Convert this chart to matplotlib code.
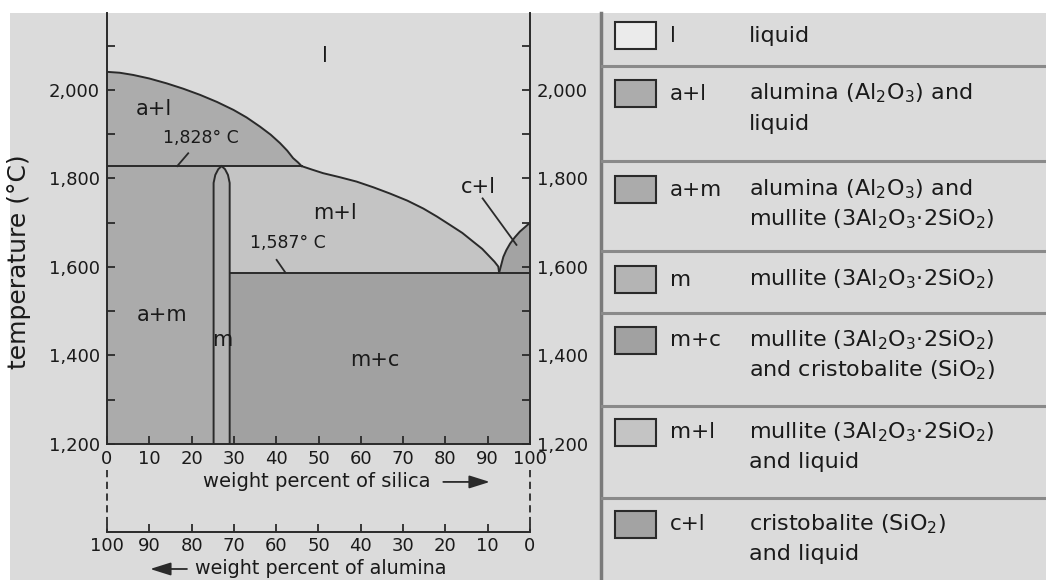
import numpy as np
import matplotlib.pyplot as plt
from matplotlib.patches import Polygon, Rectangle

W, H = 1046, 580

# phase boundaries, x = wt% SiO2, t = degrees C
al_liq_x = [0, 3.0, 6.2, 10.0, 14.1, 18.0, 22.0, 26.0, 29.9, 33.0, 36.2,
            38.7, 40.9, 42.6, 44.0, 45.2, 46.0]
al_liq_t = [2041, 2039, 2034, 2026, 2015, 2003, 1989, 1973, 1955, 1938, 1917,
            1899, 1880, 1863, 1846, 1836, 1828]

mul_liq_x = [46.0, 48.5, 51.1, 55.0, 59.0, 63.0, 66.9, 71.0, 74.8, 78.0,
             81.1, 84.0, 86.6, 88.7, 90.5, 91.6, 92.5, 92.7]
mul_liq_t = [1828, 1820, 1812, 1803, 1793, 1780, 1766, 1750, 1732, 1714,
             1695, 1677, 1657, 1641, 1623, 1612, 1601, 1587]

cri_liq_x = [92.7, 93.7, 94.4, 95.3, 96.4, 97.6, 98.8, 100]
cri_liq_t = [1587, 1623, 1638, 1653, 1667, 1680, 1690, 1700]

# mullite field (narrow band with rounded top)
mul_x = [25.2, 25.2, 25.6, 26.3, 27.1, 27.9, 28.6, 29.0, 29.0]
mul_t = [1200, 1790, 1808, 1821, 1828, 1821, 1808, 1790, 1200]

t_upper_eut = 1828
t_lower_eut = 1587
t_min, t_max = 1200, 2174

major_t = [1200, 1400, 1600, 1800, 2000]
minor_t = [1300, 1500, 1700, 1900, 2100]
silica_ticks = [0, 10, 20, 30, 40, 50, 60, 70, 80, 90, 100]
alumina_ticks = [100, 90, 80, 70, 60, 50, 40, 30, 20, 10, 0]

region_codes = ["l", "a+l", "a+m", "m", "m+c", "m+l", "c+l"]
region_colors = {"l": "#dbdbdb", "a+l": "#acacac", "a+m": "#ababab",
                 "m": "#b4b4b4", "m+c": "#a1a1a1", "m+l": "#c4c4c4",
                 "c+l": "#a3a3a3"}
region_text = {
    "l": ["liquid"],
    "a+l": ["alumina (Al$_2$O$_3$) and", "liquid"],
    "a+m": ["alumina (Al$_2$O$_3$) and", "mullite (3Al$_2$O$_3$\u00b72SiO$_2$)"],
    "m": ["mullite (3Al$_2$O$_3$\u00b72SiO$_2$)"],
    "m+c": ["mullite (3Al$_2$O$_3$\u00b72SiO$_2$)", "and cristobalite (SiO$_2$)"],
    "m+l": ["mullite (3Al$_2$O$_3$\u00b72SiO$_2$)", "and liquid"],
    "c+l": ["cristobalite (SiO$_2$)", "and liquid"],
}

# label positions inside the diagram
field_labels = [("l", 51.5, 2077), ("a+l", 11, 1957), ("m+l", 53.9, 1721),
                ("c+l", 87.7, 1781), ("a+m", 13.1, 1492), ("m", 27.2, 1436),
                ("m+c", 63.4, 1390)]

ink = "#2a2a2a"
txt = "#1a1a1a"
plt.rcParams['font.family'] = ['DejaVu Sans']
plt.rcParams['mathtext.fontset'] = 'dejavusans'

fig = plt.figure(figsize=(W / 100, H / 100), dpi=100)
fig.patch.set_facecolor("#dbdbdb")

# background panel, pixel coordinates
bg = fig.add_axes([0, 0, 1, 1])
bg.set_xlim(0, W)
bg.set_ylim(H, 0)
bg.axis("off")
bg.add_patch(Rectangle((0, 0), W, 13, color="white", lw=0))
bg.add_patch(Rectangle((0, 0), 10, H, color="white", lw=0))
bg.plot([601, 601], [13, H], color="#7a7a7a", lw=2.5)
for y in [66, 161, 251, 313, 406, 498]:
    bg.plot([602, W], [y, y], color="#8a8a8a", lw=2.2)

sw_top = [22, 80, 176, 266, 327, 419, 511]
for code, top in zip(region_codes, sw_top):
    fc = "#ebebeb" if code == "l" else region_colors[code]
    bg.add_patch(Rectangle((615, top), 41, 27, facecolor=fc,
                           edgecolor=ink, lw=1.5))
    yc = top + 13.5
    bg.text(670, yc, code, fontsize=15.5, va="center", ha="left", color=txt)
    for i, line in enumerate(region_text[code]):
        bg.text(749, yc + 30 * i, line, fontsize=16, va="center",
                ha="left", color=txt)

ax = fig.add_axes([107 / W, (H - 444) / H, 423 / W, 431 / H])
ax.set_facecolor(region_colors["l"])
ax.set_xlim(0, 100)
ax.set_ylim(t_min, t_max)

# fields
ax.add_patch(Polygon(list(zip(al_liq_x, al_liq_t)) + [(0, t_upper_eut)],
                     closed=True, facecolor=region_colors["a+l"], lw=0))
ax.add_patch(Rectangle((0, t_min), 27.1, t_upper_eut - t_min,
                       facecolor=region_colors["a+m"], lw=0))
ml = [(27.1, t_upper_eut)] + list(zip(mul_liq_x, mul_liq_t)) + \
     [(29.0, t_lower_eut), (29.0, 1790)]
ax.add_patch(Polygon(ml, closed=True, facecolor=region_colors["m+l"], lw=0))
ax.add_patch(Rectangle((29.0, t_min), 71, t_lower_eut - t_min,
                       facecolor=region_colors["m+c"], lw=0))
ax.add_patch(Polygon(list(zip(cri_liq_x, cri_liq_t)) + [(100, t_lower_eut)],
                     closed=True, facecolor=region_colors["c+l"], lw=0))
ax.add_patch(Polygon(list(zip(mul_x, mul_t)), closed=False,
                     facecolor=region_colors["m"], edgecolor=ink, lw=1.4))

# boundaries
ax.plot(al_liq_x, al_liq_t, color=ink, lw=1.4)
ax.plot(mul_liq_x, mul_liq_t, color=ink, lw=1.4)
ax.plot(cri_liq_x, cri_liq_t, color=ink, lw=1.4)
ax.plot([0, 46.0], [t_upper_eut, t_upper_eut], color=ink, lw=1.4)
ax.plot([29.0, 100], [t_lower_eut, t_lower_eut], color=ink, lw=1.4)

for code, x, t in field_labels:
    ax.text(x, t, code, fontsize=15, ha="center", va="center", color=txt)

ax.text(22.3, 1891, "{:,}° C".format(t_upper_eut), fontsize=12.5,
        ha="center", va="center", color=txt)
ax.plot([19.2, 16.6], [1857, t_upper_eut], color=ink, lw=1.3)
ax.text(42.7, 1654, "{:,}° C".format(t_lower_eut), fontsize=12.5,
        ha="center", va="center", color=txt)
ax.plot([40.1, 42.2], [1616, t_lower_eut], color=ink, lw=1.3)
ax.plot([88.8, 96.8], [1755, 1650], color=ink, lw=1.3)

# axes styling
for s in ["left", "right", "bottom"]:
    ax.spines[s].set_color(ink)
    ax.spines[s].set_linewidth(1.4)
ax.spines["top"].set_visible(False)

ax.set_yticks(major_t)
ax.set_yticklabels(["{:,}".format(t) for t in major_t])
ax.set_yticks(minor_t, minor=True)
ax.set_xticks(silica_ticks)
ax.tick_params(which="both", direction="in", length=6, width=1.3,
               color=ink, labelsize=13, labelcolor=txt,
               left=True, right=True, labelright=True, bottom=True, top=False)
ax.tick_params(axis="x", pad=4)
ax.tick_params(axis="y", pad=5)

# alumina scale under the diagram
sec = ax.secondary_xaxis(-0.204, functions=(lambda s: 100 - s, lambda a: 100 - a))
sec.set_xticks(alumina_ticks)
sec.tick_params(direction="in", length=6, width=1.3, color=ink,
                labelsize=13, labelcolor=txt, pad=4)
sec.spines["bottom"].set_color(ink)
sec.spines["bottom"].set_linewidth(1.4)

xt = ax.get_xaxis_transform()
for x in [0, 100]:
    ax.plot([x, x], [-0.06, -0.204], transform=xt, clip_on=False,
            color=ink, lw=1.3, ls=(0, (4, 2.5)))

arrow = dict(arrowstyle="-|>,head_length=0.7,head_width=0.22",
             color=ink, lw=1.3, mutation_scale=18, shrinkA=0, shrinkB=0)
ax.text(22.7, -0.088, "weight percent of silica", transform=xt,
        fontsize=14, ha="left", va="center", color=txt)
ax.annotate("", xy=(90.5, -0.088), xytext=(79.5, -0.088), xycoords=xt,
            textcoords=xt, annotation_clip=False, arrowprops=arrow)
ax.text(20.8, -0.29, "weight percent of alumina", transform=xt,
        fontsize=13.8, ha="left", va="center", color=txt)
ax.annotate("", xy=(10.2, -0.29), xytext=(18.9, -0.29), xycoords=xt,
            textcoords=xt, annotation_clip=False, arrowprops=arrow)

fig.text(19 / W, 1 - 262 / H, "temperature (°C)", rotation=90, fontsize=18,
         ha="center", va="center", color=txt)

fig.savefig("out.png", dpi=100, facecolor=fig.get_facecolor())
